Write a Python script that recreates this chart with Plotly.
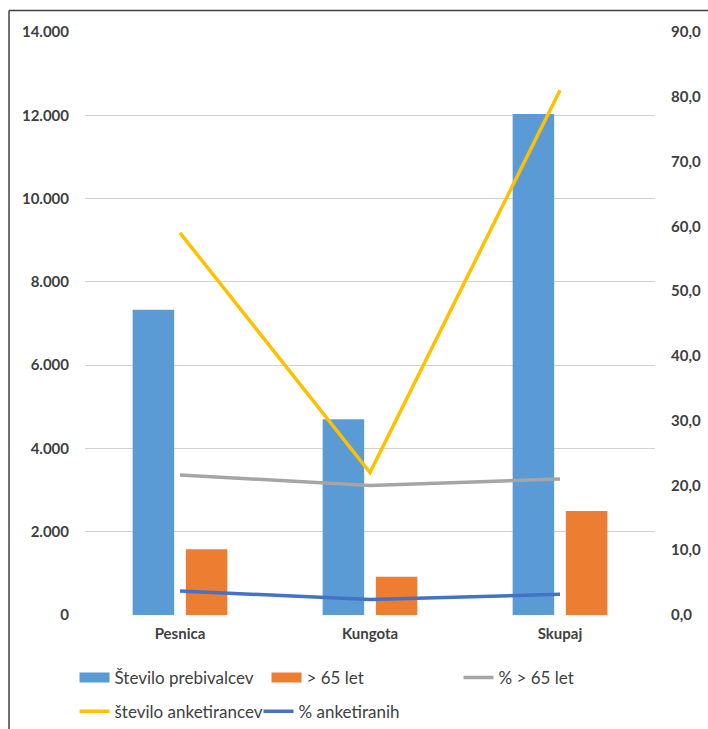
import plotly.graph_objects as go

categories = ["Pesnica", "Kungota", "Skupaj"]
prebivalci = [7330, 4700, 12030]
nad65 = [1580, 920, 2500]
pct_nad65 = [21.6, 20.0, 21.0]
anketiranci = [59, 22, 81]
pct_anketiranih = [3.7, 2.4, 3.2]

left_ticks = [0, 2000, 4000, 6000, 8000, 10000, 12000, 14000]
left_labels = ["0", "2.000", "4.000", "6.000", "8.000", "10.000", "12.000", "14.000"]
right_ticks = [0, 10, 20, 30, 40, 50, 60, 70, 80, 90]
right_labels = ["0,0", "10,0", "20,0", "30,0", "40,0", "50,0", "60,0", "70,0", "80,0", "90,0"]

C_BLUE = "#5B9BD5"
C_ORANGE = "#ED7D31"
C_GRAY = "#A5A5A5"
C_YELLOW = "#FFC000"
C_DBLUE = "#4472C4"

tickfont = dict(family="Lato, Open Sans, sans-serif", size=15, color="#404040", weight="bold")

fig = go.Figure()
fig.add_trace(go.Bar(x=categories, y=prebivalci, name="Število prebivalcev", showlegend=False,
                     marker=dict(color=C_BLUE, line=dict(width=0))))
fig.add_trace(go.Bar(x=categories, y=nad65, name="> 65 let", showlegend=False,
                     marker=dict(color=C_ORANGE, line=dict(width=0))))
fig.add_trace(go.Scatter(x=categories, y=pct_nad65, name="% > 65 let", yaxis="y2",
                         mode="lines", line=dict(color=C_GRAY, width=3.5), showlegend=False))
fig.add_trace(go.Scatter(x=categories, y=anketiranci, name="število anketirancev", yaxis="y2",
                         mode="lines", line=dict(color=C_YELLOW, width=3.5), showlegend=False))
fig.add_trace(go.Scatter(x=categories, y=pct_anketiranih, name="% anketiranih", yaxis="y2",
                         mode="lines", line=dict(color=C_DBLUE, width=3.5), showlegend=False))

# legend entries (two rows, as in the original)
legend_rows = [
    ("Število prebivalcev", C_BLUE, 10, "legend"),
    ("> 65 let", C_ORANGE, 10, "legend"),
    ("% > 65 let", C_GRAY, 3.5, "legend"),
    ("število anketirancev", C_YELLOW, 3.5, "legend2"),
    ("% anketiranih", C_DBLUE, 3.5, "legend2"),
]
for name, color, w, lg in legend_rows:
    fig.add_trace(go.Scatter(x=[None], y=[None], name=name, mode="lines",
                             line=dict(color=color, width=w), legend=lg, showlegend=True,
                             hoverinfo="skip"))

legfont = dict(family="Lato, Open Sans, sans-serif", size=17, color="#404040")

fig.update_layout(
    width=708, height=729,
    margin=dict(l=85, r=53, t=32, b=114, autoexpand=False),
    paper_bgcolor="white", plot_bgcolor="white",
    barmode="group", bargap=0.44, bargroupgap=0.22,
    legend=dict(orientation="h", x=-0.0184, xanchor="left", y=-0.108, yanchor="middle",
                entrywidth=147, entrywidthmode="pixels", traceorder="normal",
                font=legfont, bgcolor="rgba(0,0,0,0)"),
    legend2=dict(orientation="h", x=-0.0184, xanchor="left", y=-0.166, yanchor="middle",
                 entrywidth=139, entrywidthmode="pixels", traceorder="normal",
                 font=legfont, bgcolor="rgba(0,0,0,0)"),
    xaxis=dict(showgrid=False, showline=False, ticks="", tickfont=tickfont,
               ticklabelstandoff=8),
    yaxis=dict(range=[0, 14000], tickvals=left_ticks, ticktext=left_labels,
               showgrid=True, gridcolor="#D0D0D0", gridwidth=1.2, zeroline=False,
               showline=False, ticks="", ticklabelstandoff=15, tickfont=tickfont),
    yaxis2=dict(range=[0, 90], tickvals=right_ticks, ticktext=right_labels,
                overlaying="y", side="right", showgrid=False, zeroline=False,
                showline=False, ticks="", ticklabelstandoff=15, tickfont=tickfont),
    shapes=[
        dict(type="line", xref="paper", yref="paper", x0=-0.1333, x1=-0.1333, y0=1.037, y1=-0.2,
             line=dict(color="#404040", width=1.5)),
        dict(type="line", xref="paper", yref="paper", x0=-0.1333, x1=1.1, y0=1.037, y1=1.037,
             line=dict(color="#404040", width=1.5)),
    ],
)

fig.write_html("out.html", config={"displayModeBar": False},
               post_script="document.body.style.margin='0';")
